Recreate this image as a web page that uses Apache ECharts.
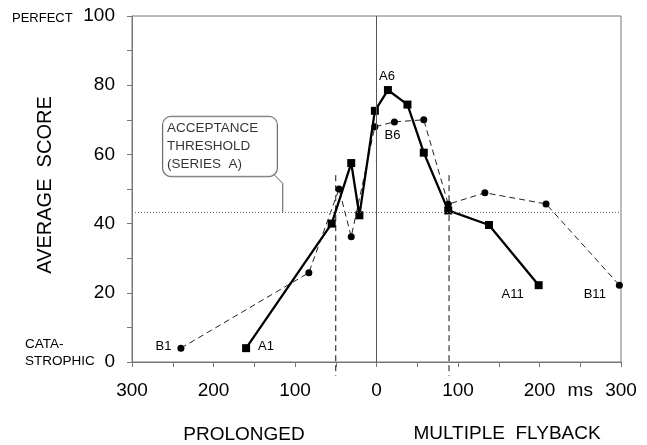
<!DOCTYPE html>
<html><head><meta charset="utf-8">
<script src="https://cdn.jsdelivr.net/npm/echarts@6/dist/echarts.min.js"></script>
<style>html,body{margin:0;padding:0;background:#fff}#c{width:647px;height:445px}</style>
</head><body><div id="c"></div>
<script>
// ---- data ----
var seriesAX = [-160, -55, -31, -21, -2, 14, 38, 58, 88, 138, 199];
var seriesAY = [4, 40, 57.5, 42.4, 72.6, 78.6, 74.4, 60.5, 43.8, 39.6, 22.2];
var seriesBX = [-240, -83, -46, -31, -2, 22, 58, 88, 133, 208, 298];
var seriesBY = [4, 25.8, 50, 36.2, 68, 69.4, 70, 45.6, 48.9, 45.7, 22.2];
var labelsA = ['A1', '', '', '', '', 'A6', '', '', '', '', 'A11'];
var labelsB = ['B1', '', '', '', '', 'B6', '', '', '', '', 'B11'];
var thresholdValue = 43.4;
var dashedMarksX = [-50, 89];
var dashedTop = 54, dashedBottom = -4;
var xTickValues = [-300, -200, -100, 0, 100, 200, 250, 300];
var xTickLabels = ['300', '200', '100', '0', '100', '200', 'ms', '300'];
var yTickValues = [0, 20, 40, 60, 80, 100];
var yTickLabels = ['0', '20', '40', '60', '80', '100'];
var calloutText = ['ACCEPTANCE', 'THRESHOLD', '(SERIES  A)'];
var calloutAnchor = [-262, 62.3];
var leaderLine = [[-125, 54], [-115, 51.6], [-115, 43.4]];

var FONT = '"Liberation Sans", Arial, Helvetica, sans-serif';

var labelStylesA = {
  'A1': { position: 'right', offset: [3, -2] },
  'A6': { position: 'top', offset: [-1, 2] },
  'A11': { position: 'left', offset: [-6, 9] }
};
var labelStylesB = {
  'B1': { position: 'left', offset: [-1, -2] },
  'B6': { position: 'bottom', offset: [-2, -1] },
  'B11': { position: 'left', offset: [-5, 9] }
};
function buildData(xs, ys, labels, styles) {
  return xs.map(function (x, i) {
    var item = { value: [x, ys[i]] };
    if (labels[i]) {
      var s = styles[labels[i]];
      item.label = {
        show: true, formatter: labels[i], position: s.position, offset: s.offset,
        color: '#000', fontSize: 13, fontFamily: FONT
      };
    }
    return item;
  });
}

var dashedSeries = dashedMarksX.map(function (x) {
  return {
    type: 'line', data: [[x, dashedTop], [x, dashedBottom]], symbol: 'none', clip: false,
    lineStyle: { color: '#111', width: 1, type: [6, 4] }, silent: true, z: 1
  };
});

var chart = echarts.init(document.getElementById('c'), null, { renderer: 'canvas' });
var option = {
  animation: false,
  backgroundColor: '#fff',
  grid: { left: 132, right: 26, top: 16, bottom: 83, show: true, borderColor: '#777', borderWidth: 1 },
  xAxis: {
    type: 'value', min: -300, max: 300, interval: 50,
    axisLine: { show: true, onZero: false, lineStyle: { color: '#777', width: 1 } },
    axisTick: { show: true, length: 5, lineStyle: { color: '#777' } },
    splitLine: { show: false },
    axisLabel: {
      margin: 19, color: '#000', fontSize: 19, fontFamily: FONT,
      formatter: function (v) { var i = xTickValues.indexOf(v); return i >= 0 ? xTickLabels[i] : ''; }
    }
  },
  yAxis: {
    type: 'value', min: 0, max: 100, interval: 10,
    axisLine: { show: true, onZero: false, lineStyle: { color: '#777', width: 1 } },
    axisTick: { show: true, length: 5, lineStyle: { color: '#777' } },
    splitLine: { show: false },
    axisLabel: {
      margin: 17, color: '#000', fontSize: 19, fontFamily: FONT,
      formatter: function (v) { var i = yTickValues.indexOf(v); return i >= 0 ? yTickLabels[i] : ''; }
    }
  },
  series: [
    {
      type: 'line', name: 'B', data: buildData(seriesBX, seriesBY, labelsB, labelStylesB),
      symbol: 'circle', symbolSize: 7, itemStyle: { color: '#000' },
      lineStyle: { color: '#222', width: 1, type: [6, 4] }, z: 3,
      markLine: {
        silent: true, symbol: 'none', label: { show: false },
        data: [
          { yAxis: thresholdValue, lineStyle: { color: '#666', width: 1, type: [1, 2] } },
          { xAxis: 0, lineStyle: { color: '#555', width: 1, type: 'solid' } }
        ]
      }
    },
    {
      type: 'line', name: 'A', data: buildData(seriesAX, seriesAY, labelsA, labelStylesA),
      symbol: 'rect', symbolSize: 8, itemStyle: { color: '#000' },
      lineStyle: { color: '#000', width: 2.3 }, z: 4
    },
    {
      type: 'line', data: leaderLine, symbol: 'none',
      lineStyle: { color: '#555', width: 1 }, silent: true, z: 2
    },
    {
      type: 'scatter', symbol: 'circle', symbolSize: 0.1, itemStyle: { color: 'transparent' },
      data: [{
        value: calloutAnchor,
        label: {
          show: true, position: 'inside', formatter: calloutText.join('\n'),
          align: 'left', color: '#000', fontSize: 13.5, fontFamily: FONT, lineHeight: 17.8,
          width: 106, overflow: 'none',
          backgroundColor: '#fff', borderColor: '#444', borderWidth: 1, borderRadius: 8,
          padding: [3, 4, 3, 4]
        }
      }], z: 5, silent: true
    }
  ].concat(dashedSeries),
  graphic: [
    { type: 'text', x: 45, y: 185, rotation: Math.PI / 2,
      style: { text: 'AVERAGE  SCORE', x: 0, y: 0, fontSize: 20, fontFamily: FONT, fill: '#000',
        textAlign: 'center', textVerticalAlign: 'middle', align: 'center', verticalAlign: 'middle' } },
    { type: 'text', x: 12, y: 18,
      style: { text: 'PERFECT', x: 0, y: 0, fontSize: 13, fontFamily: FONT, fill: '#000',
        textAlign: 'left', textVerticalAlign: 'middle', align: 'left', verticalAlign: 'middle' } },
    { type: 'text', x: 25, y: 344,
      style: { text: 'CATA-', x: 0, y: 0, fontSize: 13.5, fontFamily: FONT, fill: '#000',
        textAlign: 'left', textVerticalAlign: 'middle', align: 'left', verticalAlign: 'middle' } },
    { type: 'text', x: 25, y: 361,
      style: { text: 'STROPHIC', x: 0, y: 0, fontSize: 13.5, fontFamily: FONT, fill: '#000',
        textAlign: 'left', textVerticalAlign: 'middle', align: 'left', verticalAlign: 'middle' } },
    { type: 'text', x: 244, y: 435,
      style: { text: 'PROLONGED', x: 0, y: 0, fontSize: 19, fontFamily: FONT, fill: '#000',
        textAlign: 'center', textVerticalAlign: 'middle', align: 'center', verticalAlign: 'middle' } },
    { type: 'text', x: 507, y: 434,
      style: { text: 'MULTIPLE  FLYBACK', x: 0, y: 0, fontSize: 19, fontFamily: FONT, fill: '#000',
        textAlign: 'center', textVerticalAlign: 'middle', align: 'center', verticalAlign: 'middle' } }
  ]
};
chart.setOption(option);
</script></body></html>
